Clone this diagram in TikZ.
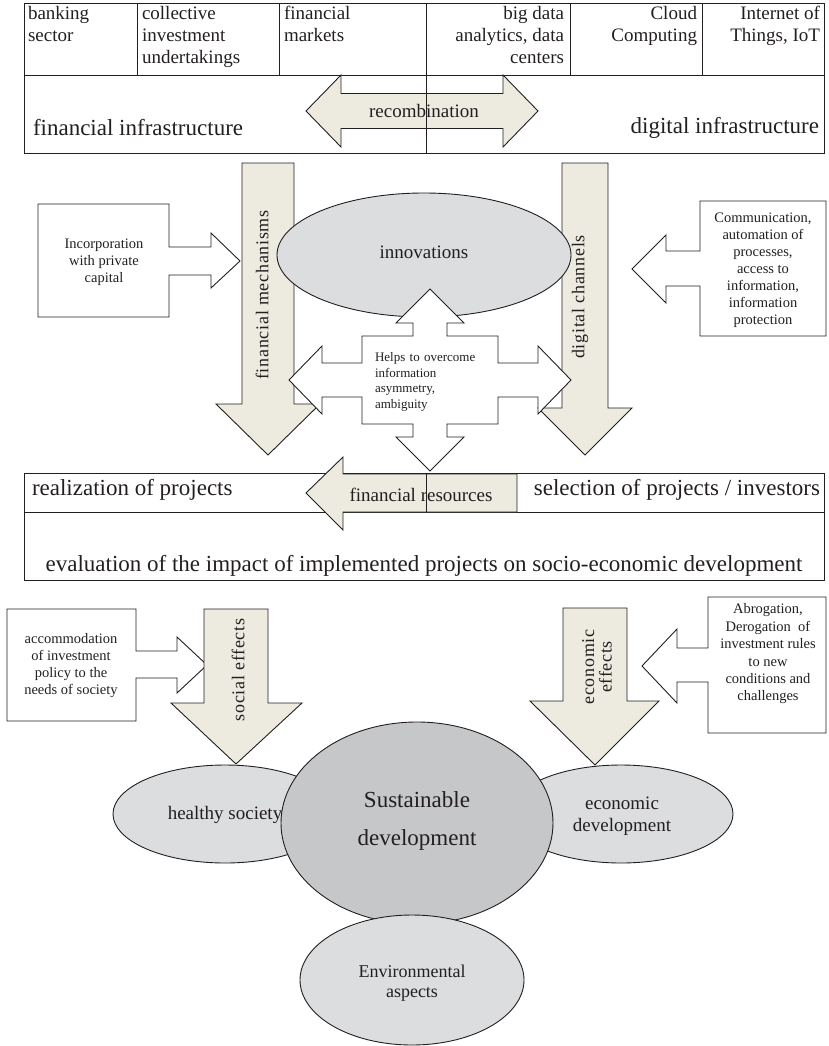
\documentclass[tikz,border=0pt]{standalone}
\usepackage{fontspec}
\usetikzlibrary{shapes.geometric}
\setmainfont{Liberation Serif}
\newfontfamily\spacedfont[LetterSpace=4]{Liberation Serif}
\definecolor{beige}{RGB}{237,234,223}
\definecolor{lgray}{RGB}{220,221,223}
\definecolor{mgray}{RGB}{198,199,201}
\definecolor{ink}{RGB}{35,31,32}
\newcommand{\fsz}[2]{\fontsize{#1}{#2}\selectfont}
\begin{document}
\begin{tikzpicture}[x=1pt,y=-1pt,
  shp/.style={draw=ink, line width=0.9pt, line join=miter},
  barrow/.style={shp, fill=beige},
  wshape/.style={shp, fill=white},
  txt/.style={inner sep=0pt, outer sep=0pt, text=ink},
  bigtxt/.style={txt, font=\fsz{23}{27}},
  midtxt/.style={txt, font=\fsz{19}{22}},
  smalltxt/.style={txt, font=\fsz{14.5}{17}, align=center},
  rottxt/.style={txt, font=\spacedfont\fsz{18}{17.5}, rotate=90, align=center}]
\useasboundingbox (0,0) rectangle (829,1046);

% ---------- top box ----------
\draw[shp] (24,3) rectangle (824,153);
\draw[shp] (24,75) -- (824,75);
\foreach \xx in {137,279,570,702} \draw[shp] (\xx,3) -- (\xx,75);

\node[midtxt, anchor=north west, align=left] (bank) at (28,6) {banking\\sector};
\node[midtxt, anchor=north west, align=left] (coll) at (142,6) {collective\\investment\\undertakings};
\node[midtxt, anchor=north west, align=left] (fmark) at (284,6) {financial\\markets};
\node[midtxt, anchor=north east, align=right] (bigd) at (564,6) {big data\\analytics, data\\centers};
\node[midtxt, anchor=north east, align=right] (cloud) at (697,6) {Cloud\\Computing};
\node[midtxt, anchor=north east, align=right] (iot) at (820,6) {Internet of\\Things, IoT};

\draw[barrow] (306,111) -- (341,75) -- (341,93.5) -- (503,93.5) -- (503,75) -- (538,111)
  -- (503,147) -- (503,128.5) -- (341,128.5) -- (341,147) -- cycle;
\draw[shp] (426,3) -- (426,153);
\node[midtxt] (recomb) at (424,111) {recombination};
\node[bigtxt, anchor=west] (finfra) at (33,128) {financial infrastructure};
\node[bigtxt, anchor=east] (dinfra) at (819,128) {digital infrastructure};

% ---------- middle ----------
\draw[barrow] (242,163) -- (294,163) -- (294,404) -- (320,404) -- (268,455) -- (216,404) -- (242,404) -- cycle;
\draw[barrow] (562,163) -- (608,163) -- (608,408) -- (632,408) -- (585,455) -- (538,408) -- (562,408) -- cycle;
\node[rottxt] (fmech) at (262,295) {financial mechanisms};
\node[rottxt] (dchan) at (580,297) {digital channels};

\node[shp, ellipse, fill=lgray, minimum width=294pt, minimum height=124pt, inner sep=0pt] (innov) at (424,255) {};
\node[midtxt] (innovt) at (424,252) {innovations};

\draw[wshape] (430,289) -- (464,323) -- (447,323) -- (447,336) -- (498,336) -- (498,363) -- (538,363)
  -- (538,346) -- (571,380) -- (538,414) -- (538,397) -- (498,397) -- (498,424) -- (447,424)
  -- (447,437) -- (464,437) -- (430,471) -- (396,437) -- (413,437) -- (413,424) -- (362,424)
  -- (362,397) -- (322,397) -- (322,414) -- (289,380) -- (322,346) -- (322,363) -- (362,363)
  -- (362,336) -- (413,336) -- (413,323) -- (396,323) -- cycle;
\node[txt, font=\fsz{13}{15.5}, anchor=west, align=left, text width=110pt] (helps) at (375,382)
  {\makebox[110pt][s]{Helps to overcome}\\information\\asymmetry,\\ambiguity};

\draw[wshape] (38,204) -- (169,204) -- (169,247) -- (211,247) -- (211,233) -- (240,261) -- (211,288)
  -- (211,275) -- (169,275) -- (169,317) -- (38,317) -- cycle;
\node[smalltxt] (incorp) at (104,262) {Incorporation\\with private\\capital};

\draw[wshape] (826,201) -- (700,201) -- (700,251) -- (666,251) -- (666,235) -- (632,269) -- (666,303)
  -- (666,286) -- (700,286) -- (700,336) -- (826,336) -- cycle;
\node[smalltxt] (comm) at (763,270) {Communication,\\automation of\\processes,\\access to\\information,\\information\\protection};

% ---------- bottom box ----------
\draw[shp] (24,473) rectangle (824,580);
\draw[shp] (24,512) -- (824,512);
\draw[barrow] (306,493) -- (343,457) -- (343,474) -- (517,474) -- (517,512) -- (343,512) -- (343,530) -- cycle;
\draw[shp] (426,473) -- (426,512);
\node[midtxt] (fres) at (421,495) {financial resources};
\node[bigtxt, anchor=west] (real) at (32,490) {realization of projects};
\node[bigtxt, anchor=east] (sel) at (820,490) {selection of projects / investors};
\node[bigtxt] (evalt) at (424,566) {evaluation of the impact of implemented projects on socio-economic development};

% ---------- effects ----------
\draw[wshape] (7,609) -- (136,609) -- (136,651) -- (177,651) -- (177,637) -- (207,665) -- (177,693)
  -- (177,678) -- (136,678) -- (136,721) -- (7,721) -- cycle;
\node[smalltxt] (accom) at (71,666) {accommodation\\of investment\\policy to the\\needs of society};

\draw[wshape] (826,597) -- (708,597) -- (708,648) -- (677,648) -- (677,629) -- (642,666) -- (677,703)
  -- (677,682) -- (708,682) -- (708,733) -- (826,733) -- cycle;
\node[smalltxt, font=\fsz{14.5}{17.4}] (abrog) at (768,654) {Abrogation,\\Derogation~ of\\investment rules\\to new\\conditions and\\challenges};

\draw[barrow] (204,609) -- (268,609) -- (268,703) -- (302,703) -- (236,764) -- (171,703) -- (204,703) -- cycle;
\draw[barrow] (563,608) -- (627,608) -- (627,701) -- (659,701) -- (595,765) -- (530,701) -- (563,701) -- cycle;
\node[rottxt] (soc) at (238,670) {social effects};
\node[rottxt] (ecoe) at (597,667) {economic\\effects};

% ---------- ellipses ----------
\node[shp, ellipse, fill=lgray, minimum width=224pt, minimum height=98pt, inner sep=0pt] (healthy) at (225,814) {};
\node[shp, ellipse, fill=lgray, minimum width=224pt, minimum height=98pt, inner sep=0pt] (ecodev) at (621,814) {};
\node[midtxt] (healthyt) at (225,815) {healthy society};
\node[midtxt, align=center] (ecodevt) at (622,816) {economic\\development};
\node[shp, ellipse, fill=mgray, minimum width=272pt, minimum height=202pt, inner sep=0pt] (sust) at (417,823) {};
\node[txt, font=\fsz{23}{38}, align=center] (sustt) at (417,821) {Sustainable\\development};
\node[shp, ellipse, fill=lgray, minimum width=224pt, minimum height=130pt, inner sep=0pt] (env) at (412,980) {};
\node[txt, font=\fsz{18}{20.5}, align=center] (envt) at (412,983) {Environmental\\aspects};
\end{tikzpicture}
\end{document}
